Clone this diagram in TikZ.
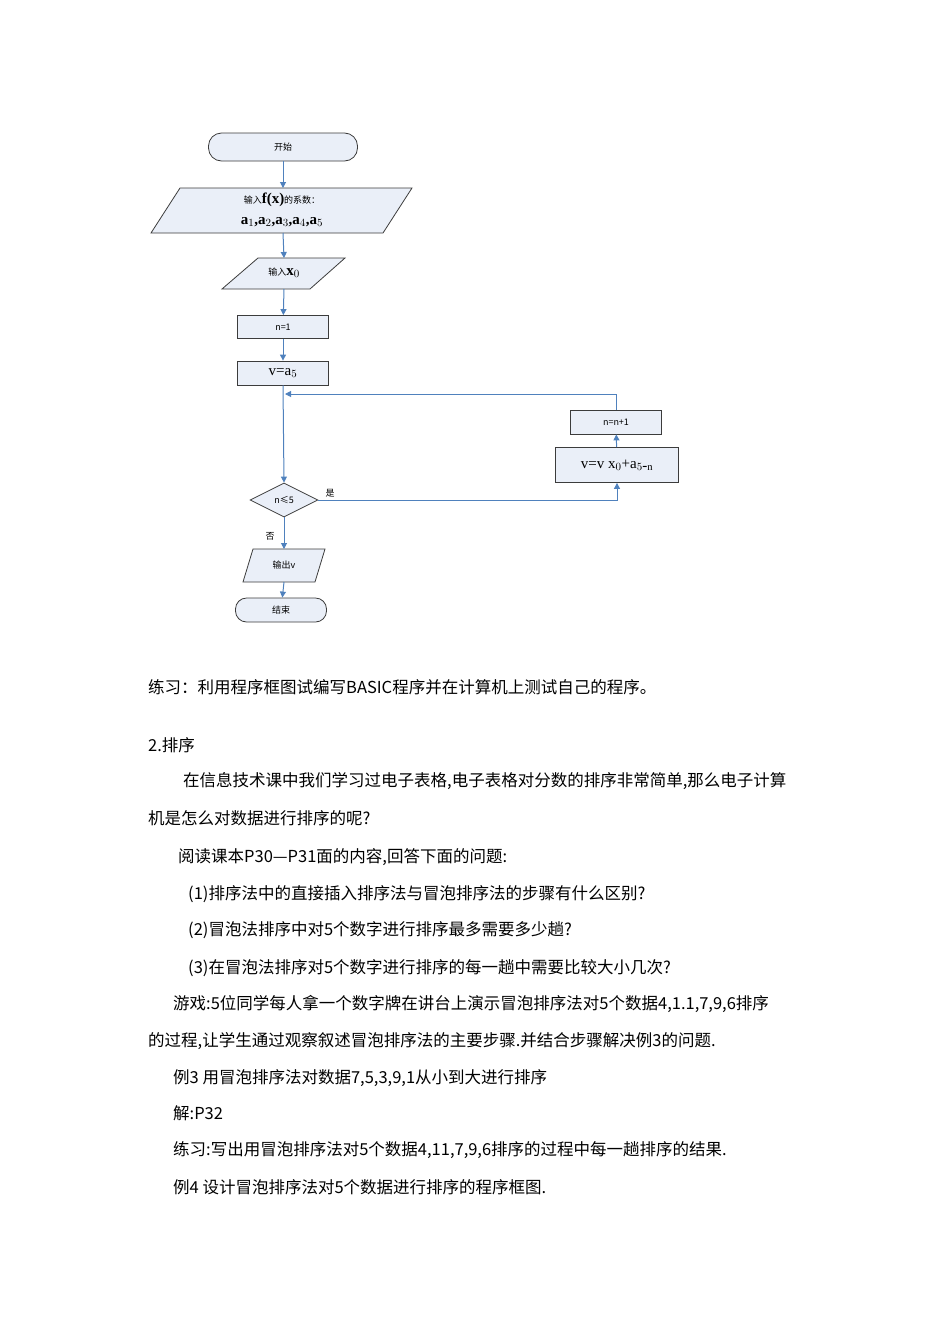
\documentclass[tikz,border=0pt]{standalone}
\usepackage{fontspec}
\setmainfont{Liberation Serif}
\newfontfamily\cjk{Noto Sans CJK SC}
\usetikzlibrary{shapes.geometric,arrows.meta}
\definecolor{fb}{RGB}{234,239,248}
\definecolor{ln}{RGB}{79,129,189}
\definecolor{bd}{RGB}{60,60,60}
\newcommand{\mth}[1]{{\rmfamily\bfseries #1}}
\begin{document}
\begin{tikzpicture}[x=1pt,y=-1pt,
 box/.style={draw=bd,fill=fb,line width=0.8pt,inner sep=0pt},
 ar/.style={draw=ln,line width=1pt,-{Triangle[length=6pt,width=6pt]}},
 small/.style={font=\cjk\fontsize{9}{10}\selectfont},
 big/.style={font=\rmfamily\fontsize{15}{15}\selectfont},
 body/.style={anchor=west,inner sep=0pt,font=\cjk\fontsize{16.5}{18}\selectfont}]
\useasboundingbox (0,0) rectangle (950,1344);
\node[box,rounded corners=13pt,minimum width=149pt,minimum height=28pt,small] (s) at (283,147) {开始};
\draw[box] (180,188)--(412,188)--(383,233)--(151,233)--cycle;
\node[small] at (282,200) {输入{\rmfamily\bfseries\fontsize{15}{15}\selectfont f(x)}的系数：};
\node[big] at (282,222) {\bfseries a$_1$,a$_2$,a$_3$,a$_4$,a$_5$};
\coordinate (in1t) at (283,188); \coordinate (in1b) at (283,233);
\draw[box] (258,258)--(345,258)--(310,289)--(222,289)--cycle;
\node[small] at (284,273) {输入{\rmfamily\bfseries\fontsize{15}{15}\selectfont x$_0$}};
\coordinate (in2t) at (284,258); \coordinate (in2b) at (284,289);
\node[box,minimum width=91pt,minimum height=23pt,small] (n1) at (283,327) {n=1};
\node[box,minimum width=91pt,minimum height=24pt,big] (va) at (283,373) {v=a$_5$};
\node[box,minimum width=91pt,minimum height=24pt,small] (nn) at (616,422) {n=n+1};
\node[box,minimum width=123pt,minimum height=35pt,big] (vv) at (617,465) {v=v x$_0$+a$_{5\mbox{-}\mathrm{n}}$};
\node[box,diamond,aspect=2.1,minimum width=68pt,minimum height=34pt,small] (d) at (284,500) {n≤5};
\draw[box] (253,549)--(325,549)--(315,582)--(243,582)--cycle;
\node[small] at (284,565) {输出v};
\coordinate (ot) at (284,549); \coordinate (ob) at (284,582);
\node[box,rounded corners=11pt,minimum width=91pt,minimum height=24pt,small] (e) at (281,610) {结束};
\coordinate (j) at (285,394);
\draw[ar] (s)--(in1t);
\draw[ar] (in1b)--(in2t);
\draw[ar] (in2b)--(n1);
\draw[ar] (n1)--(va);
\draw[ar] (va.south)--(d.north);
\draw[ar] (d.east)-|(vv.south);
\draw[ar] (vv)--(nn);
\draw[ar] (nn.north)|-(j);
\draw[ar] (d.south)--(ot);
\draw[ar] (ob)--(e);
\node[small] at (330,493) {是};
\node[small] at (270,536) {否};
\node[body] at (148,687) {练习：利用程序框图试编写BASIC程序并在计算机上测试自己的程序。};
\node[body] at (148,745) {2.排序};
\node[body] at (183,781) {在信息技术课中我们学习过电子表格,电子表格对分数的排序非常简单,那么电子计算};
\node[body] at (148,818) {机是怎么对数据进行排序的呢?};
\node[body] at (178,857) {阅读课本P30—P31面的内容,回答下面的问题:};
\node[body] at (188,894) {(1)排序法中的直接插入排序法与冒泡排序法的步骤有什么区别?};
\node[body] at (188,930) {(2)冒泡法排序中对5个数字进行排序最多需要多少趟?};
\node[body] at (188,968) {(3)在冒泡法排序对5个数字进行排序的每一趟中需要比较大小几次?};
\node[body] at (173,1004) {游戏:5位同学每人拿一个数字牌在讲台上演示冒泡排序法对5个数据4,1.1,7,9,6排序};
\node[body] at (148,1041) {的过程,让学生通过观察叙述冒泡排序法的主要步骤.并结合步骤解决例3的问题.};
\node[body] at (173,1078) {例3 用冒泡排序法对数据7,5,3,9,1从小到大进行排序};
\node[body] at (173,1113) {解:P32};
\node[body] at (173,1150) {练习:写出用冒泡排序法对5个数据4,11,7,9,6排序的过程中每一趟排序的结果.};
\node[body] at (173,1187) {例4 设计冒泡排序法对5个数据进行排序的程序框图.};
\end{tikzpicture}
\end{document}
